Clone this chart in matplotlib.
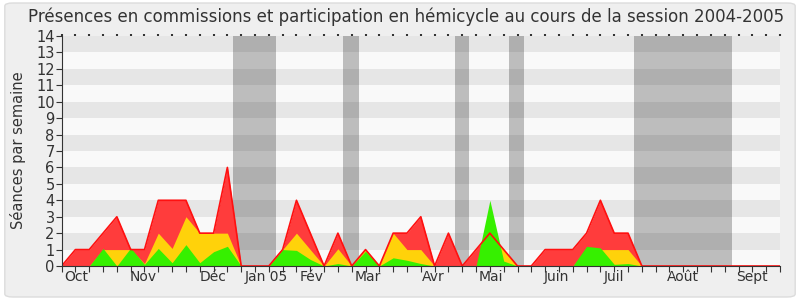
import matplotlib
matplotlib.use("Agg")
import matplotlib.pyplot as plt
from matplotlib.patches import FancyBboxPatch
import numpy as np

# Weekly data, session 2004-2005 (53 weeks)
weeks = list(range(53))
red_total = [0, 1, 1, 2, 3, 1, 1, 4, 4, 4, 2, 2, 6, 0, 0, 0, 1, 4, 2, 0,
             2, 0, 1, 0, 2, 2, 3, 0, 2, 0, 1, 2, 1, 0, 0, 1, 1, 1, 2, 4,
             2, 2, 0, 0, 0, 0, 0, 0, 0, 0, 0, 0, 0]
yellow_mid = [0, 0, 0, 1, 1, 1, 0.15, 2, 1.07, 3, 2, 2, 2, 0, 0, 0, 1, 2, 1, 0,
              1.05, 0, 1, 0, 2, 1, 1, 0, 0, 0, 0, 2, 1, 0, 0, 0, 0, 0, 1, 1,
              1, 1, 0, 0, 0, 0, 0, 0, 0, 0, 0, 0, 0]
green_hemi = [0, 0, 0, 1.07, 0, 1.1, 0.1, 1.07, 0.2, 1.3, 0.2, 0.87, 1.2, 0, 0, 0, 1, 0.95, 0.4, 0,
              0.15, 0, 0.9, 0, 0.5, 0.35, 0.15, 0, 0, 0, 0, 4, 0.3, 0, 0, 0, 0, 0, 1.2, 1.1,
              0.1, 0.15, 0, 0, 0, 0, 0, 0, 0, 0, 0, 0, 0]
vacation_bands = [(12.4, 15.5), (20.4, 21.5), (28.46, 29.48), (32.4, 33.5), (41.4, 48.5)]
month_labels = ["Oct", "Nov", "Déc", "Jan 05", "Fév", "Mar", "Avr", "Mai", "Juin", "Juil", "Août", "Sept"]
month_pos = [1.08, 5.9, 10.95, 14.85, 18.1, 22.2, 26.9, 31.1, 35.8, 39.96, 44.96, 49.95]
y_ticks = list(range(15))

title = "Présences en commissions et participation en hémicycle au cours de la session 2004-2005"
ylabel = "Séances par semaine"

plt.rcParams['font.family'] = ['DejaVu Sans']
txt = '#333333'

fig = plt.figure(figsize=(8, 3), dpi=100)
fig.patch.set_facecolor('white')
bg = FancyBboxPatch((0.006, 0.01), 0.988, 0.98, boxstyle="round,pad=0,rounding_size=0.01",
                    transform=fig.transFigure, facecolor='#efefef', edgecolor='#dcdcdc',
                    linewidth=1, zorder=-10)
fig.patches.append(bg)

ax = fig.add_axes([0.077, 0.1133, 0.898, 0.7667])
ax.set_facecolor('#f9f9f9')
ax.set_xlim(0, 52)
ax.set_ylim(0, 14)

# stripes
for k in range(1, 14, 2):
    ax.axhspan(k, k + 1, color='#e6e6e6', zorder=0, lw=0)
# vacation bands
for a, b in vacation_bands:
    ax.axvspan(a, b, color='black', alpha=0.24, zorder=1, lw=0)

x = np.array(weeks)
ax.fill_between(x, red_total, color='#ff3c3c', lw=0, zorder=2)
ax.plot(x, red_total, color='#ff1010', lw=1.2, zorder=5)
ax.fill_between(x, yellow_mid, color='#ffd20a', lw=0, zorder=3)
ax.fill_between(x, green_hemi, color='#36f000', lw=0, zorder=4)

for s in ['top', 'right']:
    ax.spines[s].set_visible(False)
for s in ['left', 'bottom']:
    ax.spines[s].set_color('#333333')
    ax.spines[s].set_zorder(6)

ax.set_xticks(weeks)
ax.set_xticklabels([])
ax.set_xticks(month_pos, minor=True)
ax.set_xticklabels(month_labels, minor=True)
ax.tick_params(axis='x', which='major', length=4, color='#333333', top=True)
ax.tick_params(axis='x', which='minor', length=0, top=False, labelsize=10, labelcolor=txt, pad=3)
ax.set_yticks(y_ticks)
ax.set_yticklabels([str(v) for v in y_ticks])
ax.tick_params(axis='y', length=4, color='#333333', labelsize=10.5, labelcolor=txt, pad=1)
for t in ax.xaxis.get_major_ticks():
    t.tick2line.set_markersize(1.5)
    t.tick2line.set_markeredgewidth(1.5)
    t.tick2line.set_color('black')

fig.text(0.508, 0.943, title, ha='center', va='center', fontsize=12, color=txt)
fig.text(0.0225, 0.5, ylabel, ha='center', va='center', rotation=90, fontsize=10.5, color=txt)

fig.savefig('out.png', dpi=100, facecolor=fig.get_facecolor())
